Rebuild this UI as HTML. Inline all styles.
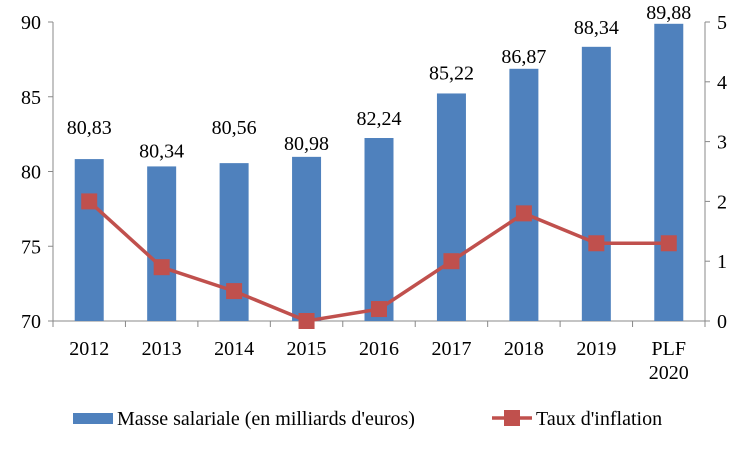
<!DOCTYPE html>
<html><head><meta charset="utf-8"><style>
body{margin:0;background:#fff}
text{font-family:"Liberation Serif",serif;fill:#000}
</style></head><body>
<svg id="chart" width="750" height="450" xmlns="http://www.w3.org/2000/svg"></svg>
<script>
const categories=["2012","2013","2014","2015","2016","2017","2018","2019","PLF|2020"];
const masse=[80.83,80.34,80.56,80.98,82.24,85.22,86.87,88.34,89.88];
const masseLabels=["80,83","80,34","80,56","80,98","82,24","85,22","86,87","88,34","89,88"];
const inflation=[2.0,0.9,0.5,0.0,0.2,1.0,1.8,1.3,1.3];
const leftTicks=[70,75,80,85,90];
const rightTicks=[0,1,2,3,4,5];
// label gap above bar (style, px)
const labelGap=[25,9,29,7,13,14,6,13,5];

const svg=document.getElementById('chart');
const NS='http://www.w3.org/2000/svg';
const L=53,R=705,T=22,B=321;
const band=(R-L)/categories.length;
const x=i=>L+band*(i+0.5);
const yL=v=>B-(v-70)/20*(B-T);
const yR=v=>B-v/5*(B-T);
function el(tag,attrs,name,txt){const e=document.createElementNS(NS,tag);for(const k in attrs)e.setAttribute(k,attrs[k]);


if(txt!==undefined)e.textContent=txt;svg.appendChild(e);return e;}

el('line',{x1:L,y1:T,x2:L,y2:B,stroke:'#888','stroke-width':1},'left-axis');
el('line',{x1:R,y1:T,x2:R,y2:B,stroke:'#888','stroke-width':1},'right-axis');
el('line',{x1:L,y1:B,x2:R,y2:B,stroke:'#888','stroke-width':1},'x-axis');
leftTicks.forEach(v=>{
  el('line',{x1:L-5,y1:yL(v),x2:L,y2:yL(v),stroke:'#888'},'left-tick');
  el('text',{x:L-12,y:yL(v)+7,'text-anchor':'end','font-size':20},'left-tick-label',v);
});
rightTicks.forEach(v=>{
  el('line',{x1:R,y1:yR(v),x2:R+5,y2:yR(v),stroke:'#888'},'right-tick');
  el('text',{x:R+12,y:yR(v)+7,'text-anchor':'start','font-size':20},'right-tick-label',v);
});
for(let i=0;i<=categories.length;i++){
  const xx=L+band*i;
  el('line',{x1:xx,y1:B,x2:xx,y2:B+6,stroke:'#888'},'x-tick');
}
categories.forEach((c,i)=>{
  const parts=c.split('|');
  parts.forEach((p,j)=>el('text',{x:x(i),y:355+j*24,'text-anchor':'middle','font-size':20},'x-tick-label',p));
});
masse.forEach((v,i)=>{
  el('rect',{x:x(i)-14.5,y:yL(v),width:29,height:B-yL(v),fill:'#4f81bd'},'bar-'+categories[i].replace('|','-'));
  el('text',{x:x(i),y:yL(v)-labelGap[i],'text-anchor':'middle','font-size':20},'bar-value-label',masseLabels[i]);
});
el('polyline',{points:inflation.map((v,i)=>x(i)+','+yR(v)).join(' '),fill:'none',stroke:'#c0504d','stroke-width':3.5},'inflation-line');
inflation.forEach((v,i)=>el('rect',{x:x(i)-8,y:yR(v)-8,width:16,height:16,fill:'#c0504d'},'inflation-point'));
el('rect',{x:73,y:413,width:40,height:11,fill:'#4f81bd'},'legend-masse-swatch');
el('text',{x:117,y:425,'font-size':20},'legend-masse-label',"Masse salariale (en milliards d'euros)");
el('line',{x1:492,y1:418,x2:532,y2:418,stroke:'#c0504d','stroke-width':3.5},'legend-inflation-line');
el('rect',{x:504,y:410,width:16,height:16,fill:'#c0504d'},'legend-inflation-marker');
el('text',{x:536,y:425,'font-size':20},'legend-inflation-label',"Taux d'inflation");
</script>
</body></html>
